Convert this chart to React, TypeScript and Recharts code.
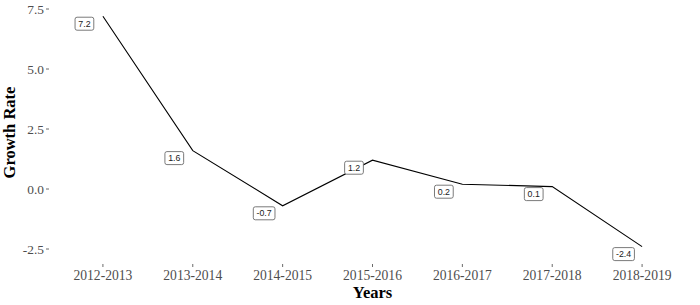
import React from 'react';
import { LineChart, Line, XAxis, YAxis, LabelList, Label } from 'recharts';

const years = ['2012-2013', '2013-2014', '2014-2015', '2015-2016', '2016-2017', '2017-2018', '2018-2019'];
const growth = [7.2, 1.6, -0.7, 1.2, 0.2, 0.1, -2.4];
const yTicks = [-2.5, 0, 2.5, 5, 7.5];
const xTicks = [1, 2, 3, 4, 5, 6, 7];

const data = years.map((y, i) => ({ idx: i + 1, year: y, growth: growth[i] }));

const SERIF = '"Liberation Serif", "Times New Roman", serif';
const SANS = '"Liberation Sans", Arial, sans-serif';

// rough text width for the label boxes
function textWidth(s: string, size: number) {
  let w = 0;
  for (const ch of s) {
    if (ch === '.') w += 0.278;
    else if (ch === '-') w += 0.333;
    else w += 0.556;
  }
  return w * size;
}

function BoxLabel(props: any) {
  const { x, y, value } = props;
  const txt = String(value);
  const fs = 8.8;
  const w = textWidth(txt, fs) + 6.5;
  const h = 13;
  const cx = x - 18.5;
  const cy = y + 7.5;
  return (
    <g>
      <rect x={cx - w / 2} y={cy - h / 2} width={w} height={h} rx={2} ry={2}
        fill="#fff" stroke="#6b6b6b" strokeWidth={0.9} />
      <text x={cx} y={cy} textAnchor="middle" dominantBaseline="central"
        fontFamily={SANS} fontSize={fs} fill="#1a1a1a">{txt}</text>
    </g>
  );
}

function XTick(props: any) {
  const { x, y, payload } = props;
  return (
    <g>
      <line x1={x} x2={x} y1={y} y2={y + 3} stroke="#444" strokeWidth={0.8} />
      <text x={x} y={y + 16} textAnchor="middle" fontFamily={SERIF} fontSize={13.6} fill="#4d4d4d">
        {years[payload.value - 1]}
      </text>
    </g>
  );
}

function YTick(props: any) {
  const { x, y, payload } = props;
  return (
    <g>
      <line x1={x - 3} x2={x} y1={y} y2={y} stroke="#444" strokeWidth={0.8} />
      <text x={x - 5} y={y} textAnchor="end" dominantBaseline="central" fontFamily={SERIF} fontSize={13.4} fill="#4d4d4d">
        {payload.value.toFixed(1)}
      </text>
    </g>
  );
}

export default function App() {
  return (
    <div style={{ position: 'absolute', left: 0, top: 0, width: 700, height: 305, background: '#fff' }}>
      <LineChart width={700} height={305} data={data} margin={{ top: 5, right: 4, left: 0, bottom: 0 }}>
        <XAxis dataKey="idx" type="number" domain={[0.4, 7.6]} ticks={xTicks} axisLine={false}
          tickLine={false} tickSize={0} tickMargin={0} tick={<XTick />} height={41} interval={0} allowDataOverflow>
          <Label content={(p: any) => {
            const vb = p.viewBox;
            return (
              <text x={vb.x + vb.width / 2} y={298} textAnchor="middle" fontFamily={SERIF}
                fontWeight="bold" fontSize={16.5} fill="#000">Years</text>
            );
          }} />
        </XAxis>
        <YAxis type="number" domain={[-3.125, 7.667]} ticks={yTicks} axisLine={false} tickLine={false}
          tickSize={0} tickMargin={0} tick={<YTick />} width={49} interval={0} allowDataOverflow>
          <Label content={(p: any) => {
            const vb = p.viewBox;
            const cy = vb.y + vb.height / 2 - 2;
            return (
              <text x={15} y={cy} transform={`rotate(-90, 15, ${cy})`} textAnchor="middle" fontFamily={SERIF}
                fontWeight="bold" fontSize={16.5} fill="#000">Growth Rate</text>
            );
          }} />
        </YAxis>
        <Line type="linear" dataKey="growth" stroke="#000" strokeWidth={1.1} dot={false}
          activeDot={false} isAnimationActive={false}>
          <LabelList dataKey="growth" content={<BoxLabel />} />
        </Line>
      </LineChart>
    </div>
  );
}
